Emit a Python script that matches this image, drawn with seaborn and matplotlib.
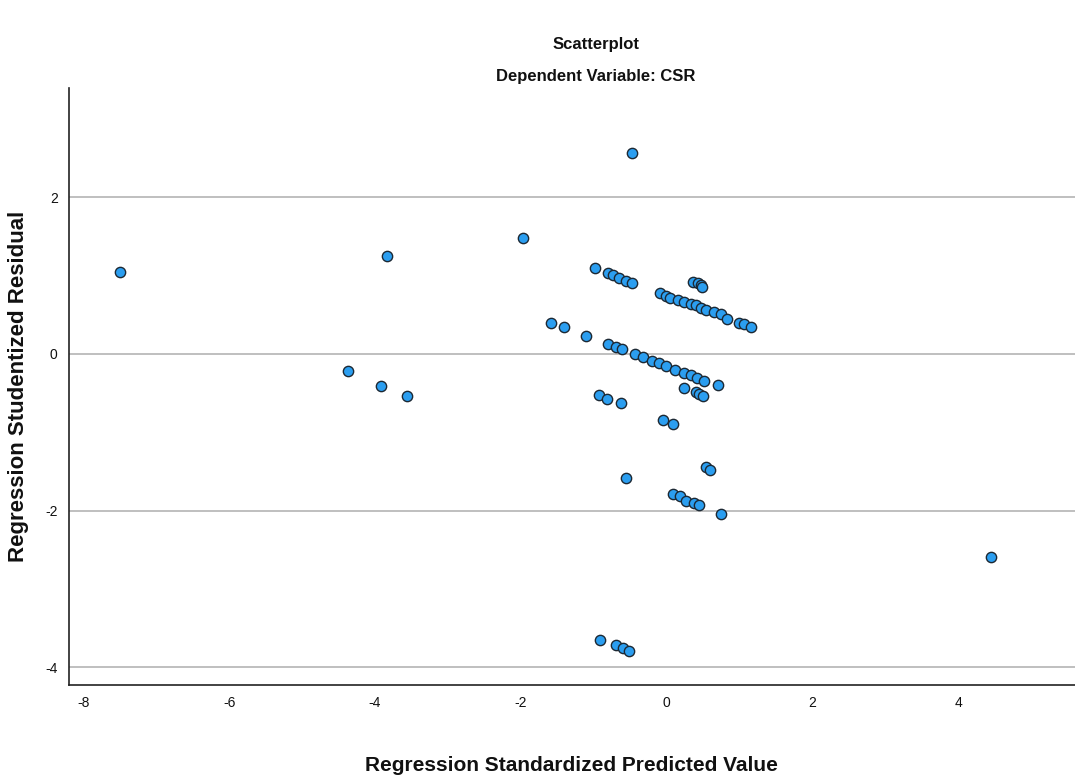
import numpy as np
import pandas as pd
import seaborn as sns
import matplotlib.pyplot as plt

# values
pred = [-7.50, -3.83, -4.37, -3.92, -3.56, -1.97, -0.47, 4.45,
        -1.59, -1.41, -1.10, -0.99,
        -0.80, -0.73, -0.66, -0.56, -0.47,
        0.36, 0.43, 0.47, 0.49,
        -0.09, -0.01, 0.05, 0.15, 0.24, 0.33, 0.40, 0.47, 0.54, 0.65, 0.74, 0.83, 0.99, 1.06, 1.15,
        -0.81, -0.69, -0.61, -0.44, -0.33, -0.20, -0.11, -0.01, 0.11, 0.24, 0.33, 0.42, 0.51, 0.71,
        0.24, 0.40, 0.44, 0.50,
        -0.93, -0.82, -0.62, -0.05, 0.08,
        -0.56, 0.54, 0.60, 0.08, 0.18, 0.26, 0.37, 0.44, 0.74,
        -0.91, -0.70, -0.60, -0.52]
resid = [1.04, 1.25, -0.22, -0.41, -0.54, 1.48, 2.57, -2.60,
         0.40, 0.34, 0.23, 1.10,
         1.03, 1.01, 0.97, 0.93, 0.91,
         0.92, 0.91, 0.88, 0.86,
         0.78, 0.74, 0.71, 0.69, 0.66, 0.64, 0.62, 0.59, 0.56, 0.54, 0.51, 0.45, 0.40, 0.38, 0.34,
         0.13, 0.09, 0.06, 0.00, -0.04, -0.09, -0.12, -0.15, -0.20, -0.24, -0.27, -0.31, -0.34, -0.40,
         -0.44, -0.49, -0.51, -0.54,
         -0.52, -0.57, -0.63, -0.84, -0.89,
         -1.59, -1.45, -1.48, -1.79, -1.82, -1.88, -1.90, -1.93, -2.04,
         -3.66, -3.72, -3.75, -3.79]

df = pd.DataFrame({"pred": pred, "resid": resid})

sns.set_style("white")
plt.rcParams['font.family'] = ['Liberation Sans', 'DejaVu Sans']
plt.rcParams['axes.unicode_minus'] = False

fig = plt.figure(figsize=(10.75, 7.83), dpi=100)
ax = fig.add_axes([0.064, 0.125, 0.936, 0.763])

for yv in [-4, -2, 0, 2]:
    ax.axhline(yv, color='#b4b4b4', linewidth=1.2, zorder=0)

sns.scatterplot(data=df, x="pred", y="resid", ax=ax, s=55, color='#2b9ef0',
                edgecolor='#1c2833', linewidth=1.0, zorder=3)

ax.set_xlim(-8.2, 5.6)
ax.set_ylim(-4.23, 3.4)
ax.set_xticks([-8, -6, -4, -2, 0, 2, 4])
ax.set_yticks([-4, -2, 0, 2])
ax.tick_params(axis='both', labelsize=10, length=0, pad=8, labelcolor='#111111')
sns.despine(ax=ax)
for s in ['left', 'bottom']:
    ax.spines[s].set_color('#222222')
    ax.spines[s].set_linewidth(1.2)

ax.set_xlabel("Regression Standardized Predicted Value", fontsize=15, fontweight='bold',
              labelpad=33, color='#111111')
ax.set_ylabel("Regression Studentized Residual", fontsize=16, fontweight='bold', labelpad=12,
              color='#111111')
fig.text(0.554, 0.938, "Scatterplot", ha='center', fontsize=12, fontweight='bold', color='#111111')
fig.text(0.554, 0.896, "Dependent Variable: CSR", ha='center', fontsize=12, fontweight='bold',
         color='#111111')

fig.savefig("out.png", dpi=100)
